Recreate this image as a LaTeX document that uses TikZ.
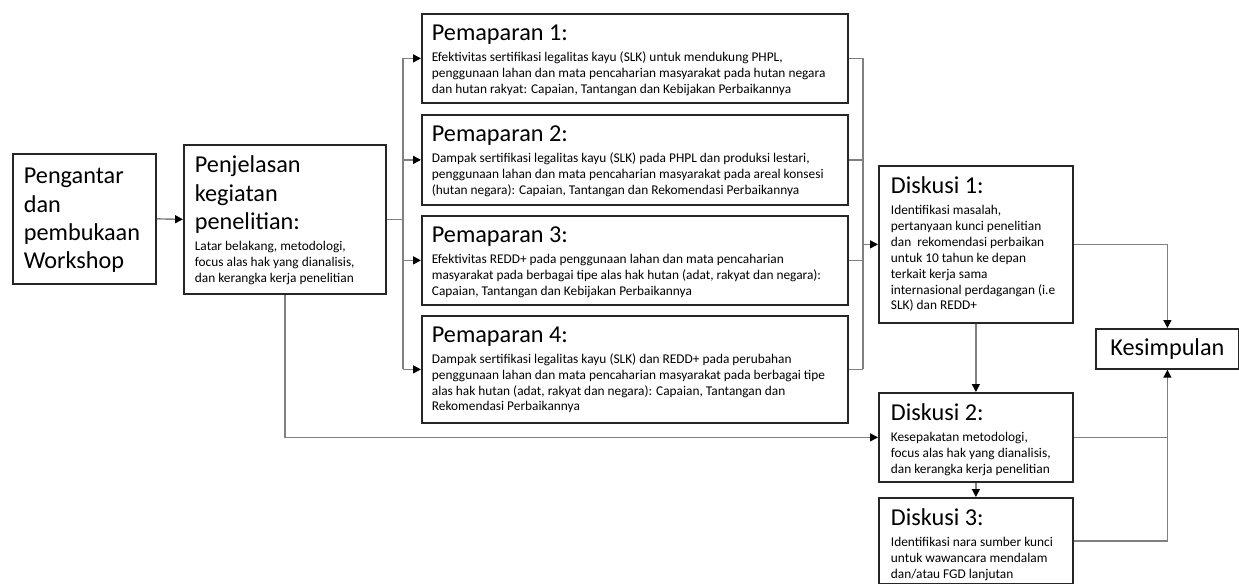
\documentclass[tikz,border=0pt]{standalone}
\usepackage{fontspec}
\setmainfont{Carlito}
\usetikzlibrary{arrows.meta}
\newdimen\px \px=0.02cm
\newcommand\ttl{\fontsize{13.8}{16.2}\selectfont}
\newcommand\bdy{\fontsize{7.6}{9}\selectfont}
\newcommand\boxtext[2]{{\ttl #1\par}\vskip 3pt{\bdy #2\par}}
\tikzset{
	boks/.style={draw=black!85, line width=1pt, anchor=north west, align=flush left, inner ysep=0pt},
	pemapar/.style={boks, text width=406\px, inner xsep=10\px, text height=26.5\px},
	diskusi/.style={boks, text width=170\px, inner xsep=12\px, text height=28\px},
	garis/.style={draw=black!50, line width=0.8pt},
	panah/.style={garis, -{Triangle[length=4.5pt, width=4.5pt, color=black]}}
}

\begin{document}
\begin{tikzpicture}[x=0.02cm, y=-0.02cm]
			%%%%% START %%%%%
			\useasboundingbox (0, 0) rectangle (1239, 584);
			
			\node[boks, text width=121\px, inner xsep=11\px, text height=29.7\px, text depth=100.3\px] (intro) at (12, 153) {\ttl Pengantar\\ dan\\ pembukaan\\ Workshop\par};
			\node[boks, text width=180\px, inner xsep=11\px, text height=27.7\px, text depth=121.3\px] (penjelasan) at (183, 144) {\boxtext{Penjelasan\\ kegiatan\\ penelitian:}{Latar belakang, metodologi,\\ focus alas hak yang dianalisis,\\ dan kerangka kerja penelitian}};
			
			\node[pemapar, text depth=62.5\px] (pem1) at (421, 13) {\boxtext{Pemaparan 1:}{Efektivitas sertifikasi legalitas kayu (SLK) untuk mendukung PHPL,\\ penggunaan lahan dan mata pencaharian masyarakat pada hutan negara\\ dan hutan rakyat: Capaian, Tantangan dan Kebijakan Perbaikannya}};
			\node[pemapar, text depth=63.5\px] (pem2) at (421, 114) {\boxtext{Pemaparan 2:}{Dampak sertifikasi legalitas kayu (SLK) pada PHPL dan produksi lestari,\\ penggunaan lahan dan mata pencaharian masyarakat pada areal konsesi\\ (hutan negara): Capaian, Tantangan dan Rekomendasi Perbaikannya}};
			\node[pemapar, text depth=62.5\px] (pem3) at (421, 215) {\boxtext{Pemaparan 3:}{Efektivitas REDD+ pada penggunaan lahan dan mata pencaharian\\ masyarakat pada berbagai tipe alas hak hutan (adat, rakyat dan negara):\\ Capaian, Tantangan dan Kebijakan Perbaikannya}};
			\node[pemapar, text depth=80.5\px] (pem4) at (421, 315) {\boxtext{Pemaparan 4:}{Dampak sertifikasi legalitas kayu (SLK) dan REDD+ pada perubahan\\ penggunaan lahan dan mata pencaharian masyarakat pada berbagai tipe\\ alas hak hutan (adat, rakyat dan negara): Capaian, Tantangan dan\\ Rekomendasi Perbaikannya}};
			
			\node[diskusi, text depth=129\px] (disk1) at (878, 165) {\boxtext{Diskusi 1:}{Identifikasi masalah,\\ pertanyaan kunci penelitian\\ dan\ \ rekomendasi perbaikan\\ untuk 10 tahun ke depan\\ terkait kerja sama\\ internasional perdagangan (i.e\\ SLK) dan REDD+}};
			\node[diskusi, text depth=61\px] (disk2) at (878, 392) {\boxtext{Diskusi 2:}{Kesepakatan metodologi,\\ focus alas hak yang dianalisis,\\ dan kerangka kerja penelitian}};
			\node[diskusi, text depth=58\px] (disk3) at (878, 497) {\boxtext{Diskusi 3:}{Identifikasi nara sumber kunci\\ untuk wawancara mendalam\\ dan/atau FGD lanjutan}};
			
			\node[boks, align=center, inner sep=0pt, minimum width=143\px, minimum height=40\px] (kesimpulan) at (1095, 328) {\ttl Kesimpulan};
			
			\coordinate (cabangL) at (403, 0);
			\coordinate (cabangR) at (863, 0);
			
			\draw[panah] (intro.east) -- (penjelasan.west);
			\draw[garis] (penjelasan.east) -- (penjelasan.east -| cabangL);
			\draw[garis] (pem1.west -| cabangL) -- (pem4.west -| cabangL);
			\draw[panah] (pem1.west -| cabangL) -- (pem1.west);
			\draw[panah] (pem2.west -| cabangL) -- (pem2.west);
			\draw[panah] (pem3.west -| cabangL) -- (pem3.west);
			\draw[panah] (pem4.west -| cabangL) -- (pem4.west);
			
			\draw[garis] (pem1.east) -- (pem1.east -| cabangR);
			\draw[garis] (pem2.east) -- (pem2.east -| cabangR);
			\draw[garis] (pem3.east) -- (pem3.east -| cabangR);
			\draw[garis] (pem4.east) -- (pem4.east -| cabangR);
			\draw[garis] (pem1.east -| cabangR) -- (pem4.east -| cabangR);
			\draw[panah] (disk1.west -| cabangR) -- (disk1.west);
			
			\draw[panah] (penjelasan.south) |- (disk2.west);
			\draw[panah] (disk1.south) -- (disk2.north);
			\draw[panah] (disk2.south) -- (disk3.north);
			
			\draw[panah] (disk1.east) -| (kesimpulan.north);
			\draw[panah] (disk3.east) -| (kesimpulan.south);
			\draw[garis] (disk2.east) -- (disk2.east -| kesimpulan.south);
			%%%%% END %%%%%
\end{tikzpicture}
\end{document}
